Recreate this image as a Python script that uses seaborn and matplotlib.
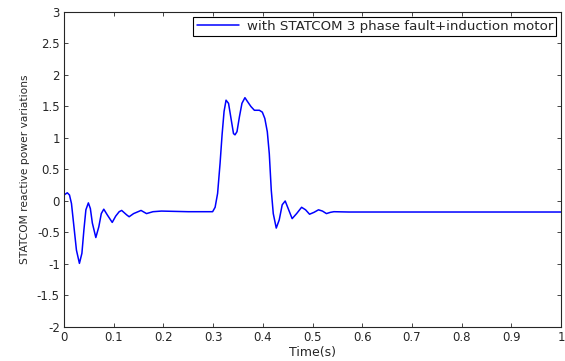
import numpy as np
import pandas as pd
import seaborn as sns
import matplotlib.pyplot as plt

sns.set_style('ticks')
plt.rcParams['font.family'] = ['DejaVu Sans']

# values
time = [0.0, 0.0066, 0.011, 0.015, 0.02, 0.025, 0.031, 0.036, 0.04, 0.044,
        0.049, 0.053, 0.057, 0.064, 0.07, 0.075, 0.08, 0.087, 0.097, 0.104,
        0.111, 0.116, 0.126, 0.131, 0.14, 0.155, 0.166, 0.179, 0.196, 0.25,
        0.299, 0.304, 0.309, 0.314, 0.318, 0.322, 0.326, 0.331, 0.336, 0.341,
        0.344, 0.348, 0.353, 0.358, 0.364, 0.369, 0.376, 0.383, 0.393, 0.399,
        0.404, 0.409, 0.413, 0.417, 0.421, 0.427, 0.433, 0.439, 0.445, 0.451,
        0.459, 0.468, 0.478, 0.486, 0.494, 0.503, 0.512, 0.52, 0.528, 0.536,
        0.543, 0.573, 0.7, 0.85, 1.0]
qvar = [0.095, 0.13, 0.095, -0.04, -0.41, -0.78, -0.99, -0.83, -0.46, -0.14,
        -0.03, -0.12, -0.35, -0.58, -0.41, -0.2, -0.13, -0.22, -0.34, -0.24,
        -0.17, -0.15, -0.22, -0.25, -0.2, -0.15, -0.2, -0.17, -0.16, -0.17,
        -0.17, -0.1, 0.12, 0.6, 1.05, 1.42, 1.6, 1.55, 1.31, 1.07,
        1.05, 1.1, 1.34, 1.55, 1.64, 1.58, 1.5, 1.44, 1.44, 1.41,
        1.31, 1.1, 0.75, 0.17, -0.2, -0.43, -0.3, -0.06, 0.0, -0.12,
        -0.28, -0.2, -0.1, -0.14, -0.21, -0.18, -0.14, -0.16, -0.2, -0.18,
        -0.17, -0.175, -0.175, -0.175, -0.175]

df = pd.DataFrame({'Time(s)': time,
                   'with STATCOM 3 phase fault+induction motor': qvar})

fig = plt.figure(figsize=(5.65, 3.61), dpi=100)
ax = fig.add_axes([0.1133, 0.0942, 0.8797, 0.8726])

sns.lineplot(data=df, x='Time(s)', y='with STATCOM 3 phase fault+induction motor',
             color='#0000ff', linewidth=1.1, ax=ax,
             label='with STATCOM 3 phase fault+induction motor')

ax.set_xlim(0, 1)
ax.set_ylim(-2, 3)
ax.set_xticks(np.arange(0, 1.01, 0.1))
ax.set_xticklabels(['0', '0.1', '0.2', '0.3', '0.4', '0.5', '0.6', '0.7', '0.8', '0.9', '1'])
ax.set_yticks(np.arange(-2, 3.01, 0.5))
ax.set_yticklabels(['-2', '-1.5', '-1', '-0.5', '0', '0.5', '1', '1.5', '2', '2.5', '3'])
ax.tick_params(direction='in', top=True, right=True, labelsize=8.5, length=3,
               width=0.6, pad=3)
for s in ax.spines.values():
    s.set_linewidth(0.8)
ax.set_xlabel('Time(s)', fontsize=9, labelpad=1)
ax.set_ylabel('STATCOM reactive power variations', fontsize=7.7, labelpad=5)

leg = ax.legend(loc='upper right', fontsize=9.6, fancybox=False, framealpha=1,
                edgecolor='black', borderaxespad=0.35, handlelength=3.2,
                borderpad=0.25, handletextpad=0.55)
leg.get_frame().set_linewidth(0.8)

fig.savefig('out.png', dpi=100)
